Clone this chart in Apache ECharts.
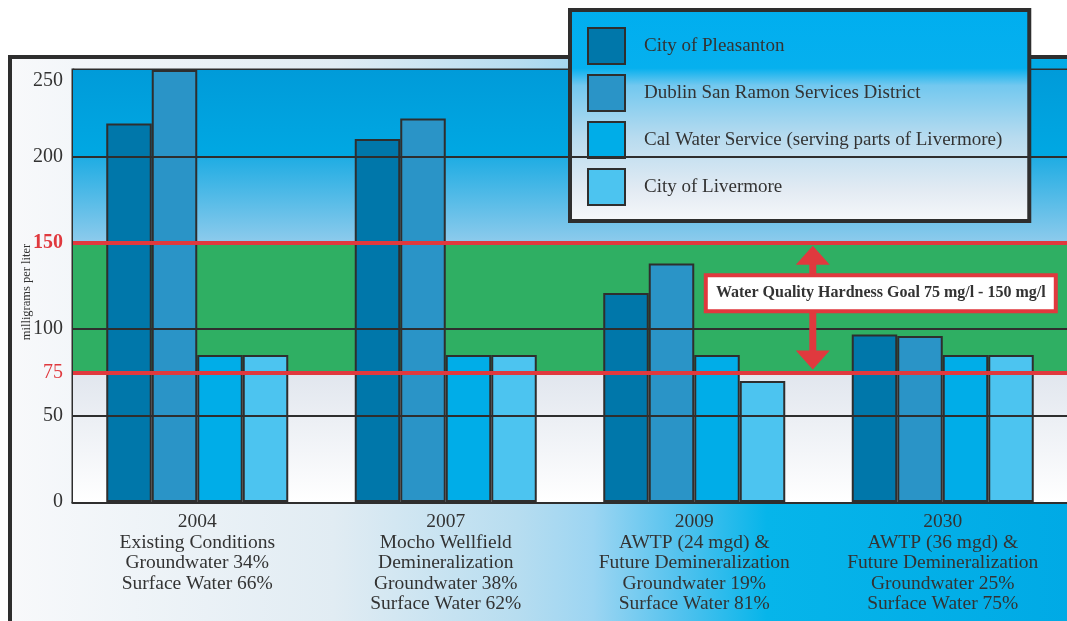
<!DOCTYPE html>
<html>
<head>
<meta charset="utf-8">
<script src="https://cdn.jsdelivr.net/npm/echarts@6/dist/echarts.min.js"></script>
<style>
  html, body { margin: 0; padding: 0; background: #fff; }
  #main { width: 1067px; height: 621px; }
</style>
</head>
<body>
<div id="main"></div>
<script>
  // categories (x axis labels)
  var categories = [
    '2004\nExisting Conditions\nGroundwater 34%\nSurface Water 66%',
    '2007\nMocho Wellfield\nDemineralization\nGroundwater 38%\nSurface Water 62%',
    '2009\nAWTP (24 mgd) &\nFuture Demineralization\nGroundwater 19%\nSurface Water 81%',
    '2030\nAWTP (36 mgd) &\nFuture Demineralization\nGroundwater 25%\nSurface Water 75%'
  ];
  // hardness values, mg/l
  var pleasanton = [219, 210, 121, 97];
  var dsrsd = [250, 222, 138, 96];
  var calWater = [85, 85, 85, 85];
  var livermore = [85, 85, 70, 85];
  // axis
  var yTicks = [0, 50, 75, 100, 150, 200, 250];
  var gridValues = [50, 100, 200];
  var goalLow = 75, goalHigh = 150;
  var goalText = 'Water Quality Hardness Goal 75 mg/l - 150 mg/l';

  var serif = "'Liberation Serif', 'DejaVu Serif', serif";
  var dark = '#2e2e2e';
  var red = '#e0393e';

  function vgrad(stops) {
    return new echarts.graphic.LinearGradient(0, 0, 0, 1, stops);
  }

  var chart = echarts.init(document.getElementById('main'));

  function bar(name, data, color) {
    return {
      name: name,
      type: 'bar',
      data: data,
      barWidth: 45.5,
      barGap: 0,
      z: 3,
      itemStyle: { color: color, borderColor: dark, borderWidth: 2 }
    };
  }

  var option = {
    animation: false,
    backgroundColor: '#fff',
    grid: {
      left: 73, right: -2, top: 70, bottom: 119,
      show: true, borderColor: dark, borderWidth: 3,
      backgroundColor: 'transparent'
    },
    legend: {
      orient: 'vertical',
      left: 570, top: 10,
      itemWidth: 37, itemHeight: 36, itemGap: 9,
      padding: [17, 27, 15, 17],
      borderColor: dark, borderWidth: 4,
      backgroundColor: vgrad([
        { offset: 0, color: '#00aeef' },
        { offset: 0.28, color: '#06b0ee' },
        { offset: 0.36, color: '#72c8ef' },
        { offset: 0.6, color: '#b7dbef' },
        { offset: 0.85, color: '#e3ebf3' },
        { offset: 1, color: '#f7f8fa' }
      ]),
      icon: 'rect',
      selectedMode: false,
      textStyle: { fontFamily: serif, fontSize: 19, color: '#333', padding: [7, 0, 0, 14] }
    },
    xAxis: {
      type: 'category',
      data: categories,
      axisLine: { show: true, lineStyle: { color: dark, width: 3 } },
      axisTick: { show: false },
      axisLabel: {
        interval: 0, margin: 10,
        fontFamily: serif, fontSize: 19.5, lineHeight: 20.5, color: '#333',
        verticalAlign: 'top'
      }
    },
    yAxis: {
      type: 'value',
      min: 0, max: 250, interval: 50,
      name: 'milligrams per liter',
      nameLocation: 'middle',
      nameRotate: 90,
      nameGap: 40,
      nameMoveOverlap: false,
      nameTextStyle: { fontFamily: serif, fontSize: 12.5, color: '#333', padding: [0, 12, 0, 0] },
      axisLine: { show: true, lineStyle: { color: dark, width: 3 } },
      axisTick: { show: false },
      splitLine: { show: false },
      axisLabel: {
        customValues: yTicks,
        margin: 10,
        fontFamily: serif, fontSize: 20, color: '#333',
        formatter: function (v) {
          if (v === goalLow) return '{r|' + v + '}';
          if (v === goalHigh) return '{rb|' + v + '}';
          if (v === 250) return '{t|' + v + '}';
          return v;
        },
        rich: {
          r: { color: red, fontFamily: serif, fontSize: 20 },
          rb: { color: red, fontFamily: serif, fontSize: 20, fontWeight: 'bold' },
          t: { color: '#333', fontFamily: serif, fontSize: 20, padding: [22, 0, 0, 0] }
        }
      }
    },
    series: [
      {
        // background bands and reference lines
        type: 'line',
        data: [],
        z: 1,
        silent: true,
        markArea: {
          silent: true,
          data: [
            [{ yAxis: 0, itemStyle: { color: vgrad([{ offset: 0, color: '#e1e6ee' }, { offset: 1, color: '#ffffff' }]) } }, { yAxis: goalLow }],
            [{ yAxis: goalLow, itemStyle: { color: '#2faf63' } }, { yAxis: goalHigh }],
            [{ yAxis: goalHigh, itemStyle: { color: vgrad([{ offset: 0, color: '#1eace3' }, { offset: 1, color: '#8ecbec' }]) } }, { yAxis: 200 }],
            [{ yAxis: 200, itemStyle: { color: vgrad([{ offset: 0, color: '#009bd9' }, { offset: 1, color: '#00a8e3' }]) } }, { yAxis: 250 }]
          ]
        },
        markLine: {
          silent: true,
          symbol: 'none',
          label: { show: false },
          data: gridValues.map(function (v) {
            return { yAxis: v, lineStyle: { color: dark, width: 2, type: 'solid' } };
          }).concat([
            { yAxis: goalLow, lineStyle: { color: red, width: 4, type: 'solid' } },
            { yAxis: goalHigh, lineStyle: { color: red, width: 4, type: 'solid' } }
          ])
        }
      },
      bar('City of Pleasanton', pleasanton, '#0077aa'),
      bar('Dublin San Ramon Services District', dsrsd, '#2a94c7'),
      bar('Cal Water Service (serving parts of Livermore)', calWater, '#00ade8'),
      bar('City of Livermore', livermore, '#4cc4f0')
    ]
  };

  chart.setOption(option);

  // frame and goal annotation, placed from the axes
  var yHi = chart.convertToPixel({ yAxisIndex: 0 }, goalHigh);
  var yLo = chart.convertToPixel({ yAxisIndex: 0 }, goalLow);
  var xA = chart.convertToPixel({ xAxisIndex: 0 }, categories[2]);
  var xB = chart.convertToPixel({ xAxisIndex: 0 }, categories[3]);
  var ax = xA + 0.477 * (xB - xA);
  var yMid = yHi + 0.39 * (yLo - yHi);

  chart.setOption({
    graphic: [
      {
        type: 'rect', z: -10, silent: true,
        shape: { x: 10, y: 57, width: 1080, height: 600 },
        style: {
          stroke: dark, lineWidth: 4,
          fill: new echarts.graphic.LinearGradient(0, 0, 1, 0, [
            { offset: 0, color: '#f8f9fb' },
            { offset: 0.3, color: '#e1ecf3' },
            { offset: 0.47, color: '#b7ddf0' },
            { offset: 0.54, color: '#9cd5f2' },
            { offset: 0.62, color: '#52c2ee' },
            { offset: 0.7, color: '#06b5ea' },
            { offset: 1, color: '#00a9e5' }
          ])
        }
      },
      {
        type: 'line', z: 10, silent: true,
        shape: { x1: ax, y1: yHi + 18, x2: ax, y2: yLo - 18 },
        style: { stroke: red, lineWidth: 7 }
      },
      {
        type: 'polygon', z: 10, silent: true,
        shape: { points: [[ax, yHi + 3], [ax - 17, yHi + 22], [ax + 17, yHi + 22]] },
        style: { fill: red }
      },
      {
        type: 'polygon', z: 10, silent: true,
        shape: { points: [[ax, yLo - 3], [ax - 17, yLo - 22], [ax + 17, yLo - 22]] },
        style: { fill: red }
      },
      {
        type: 'rect', z: 11, silent: true,
        shape: { x: ax - 107, y: yMid - 18, width: 350, height: 36 },
        style: { fill: '#fff', stroke: red, lineWidth: 4 }
      },
      {
        type: 'text', z: 12, silent: true,
        x: ax + 68, y: yMid,
        style: {
          text: goalText,
          font: "bold 16px 'Liberation Serif', serif",
          fill: '#333',
          textAlign: 'center',
          textVerticalAlign: 'middle'
        }
      }
    ]
  });
</script>
</body>
</html>
